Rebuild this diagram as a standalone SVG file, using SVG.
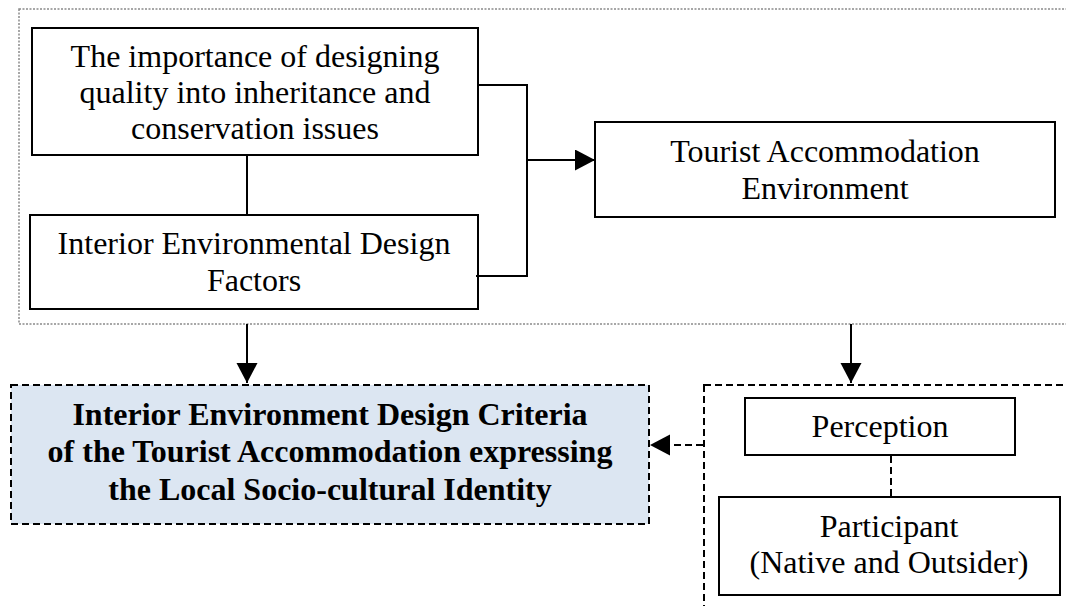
<svg xmlns="http://www.w3.org/2000/svg" width="1066" height="606" viewBox="0 0 1066 606">
  <style>
    .box { fill: #ffffff; stroke: #000000; stroke-width: 2; }
    .frame { fill: none; stroke: #8a8a8a; stroke-width: 1.5; stroke-dasharray: 2 1.5; }
    .dashbox { fill: none; stroke: #000000; stroke-width: 2; stroke-dasharray: 7 4; }
    .crit { fill: #dce6f2; stroke: #000000; stroke-width: 2; stroke-dasharray: 7 4; }
    text { font-family: 'Liberation Serif', 'DejaVu Serif', serif; fill: #000000; text-anchor: middle; }
    .lbl { font-size: 32px; }
    .bold { font-size: 32px; font-weight: bold; }
    .wire { fill: none; stroke: #000000; stroke-width: 2; }
    .wire-dash { fill: none; stroke: #000000; stroke-width: 2; stroke-dasharray: 7 4; }
  </style>
  <defs>
    <marker id="head" markerUnits="userSpaceOnUse" markerWidth="21" markerHeight="22" refX="20" refY="10.5" orient="auto">
      <path d="M0,0 L20,10.5 L0,21 Z" fill="#000000"/>
    </marker>
  </defs>

  <rect width="1066" height="606" fill="#ffffff"/>

  <!-- dotted grouping frame around the design inputs -->
  <g id="input-frame">
    <rect class="frame" x="19" y="9" width="1100" height="315"/>
  </g>

  <g id="heritage-quality">
    <rect class="box" x="32" y="28" width="446" height="127"/>
    <text class="lbl" x="255" y="67">The importance of designing</text>
    <text class="lbl" x="255" y="103">quality into inheritance and</text>
    <text class="lbl" x="255" y="139">conservation issues</text>
  </g>

  <g id="design-factors">
    <rect class="box" x="30" y="215" width="448" height="94"/>
    <text class="lbl" x="254" y="254">Interior Environmental Design</text>
    <text class="lbl" x="254" y="291">Factors</text>
  </g>

  <g id="accommodation-env">
    <rect class="box" x="595" y="122" width="460" height="95"/>
    <text class="lbl" x="825" y="162">Tourist Accommodation</text>
    <text class="lbl" x="825" y="199">Environment</text>
  </g>

  <g id="design-criteria">
    <rect class="crit" x="11" y="385" width="638" height="139"/>
    <text class="bold" x="330" y="425">Interior Environment Design Criteria</text>
    <text class="bold" x="330" y="462">of the Tourist Accommodation expressing</text>
    <text class="bold" x="330" y="500">the Local Socio-cultural Identity</text>
  </g>

  <!-- dashed frame holding perception and participants -->
  <g id="participant-frame">
    <rect class="dashbox" x="704" y="385" width="500" height="400"/>
  </g>

  <g id="perception">
    <rect class="box" x="745" y="398" width="270" height="57"/>
    <text class="lbl" x="880" y="437">Perception</text>
  </g>

  <g id="participant">
    <rect class="box" x="719" y="497" width="341" height="98"/>
    <text class="lbl" x="889" y="537">Participant</text>
    <text class="lbl" x="889" y="573">(Native and Outsider)</text>
  </g>

  <g id="connectors">
    <path class="wire" d="M247,155 V215"/>
    <path class="wire" d="M478,85 H527 V276 H476"/>
    <path class="wire" d="M527,160 H595" marker-end="url(#head)"/>
    <path class="wire" d="M247,324 V383" marker-end="url(#head)"/>
    <path class="wire" d="M851,324 V383" marker-end="url(#head)"/>
    <path class="wire-dash" d="M703,445 H650" marker-end="url(#head)"/>
    <path class="wire-dash" d="M891,456 V497"/>
  </g>
</svg>
